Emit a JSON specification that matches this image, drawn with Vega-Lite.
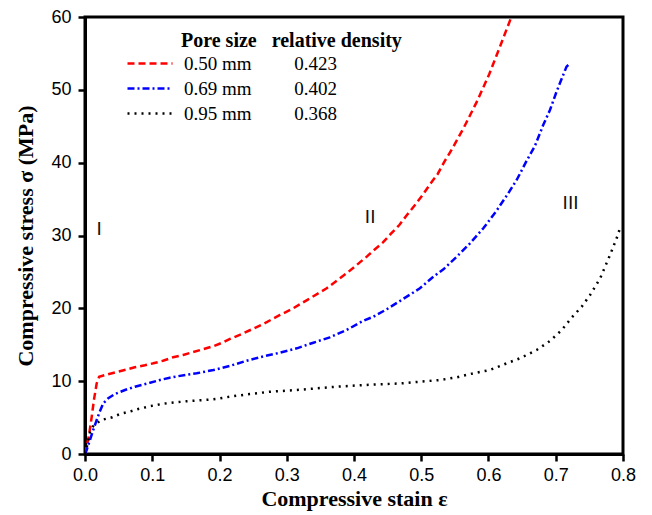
{
  "$schema": "https://vega.github.io/schema/vega-lite/v6.json",
  "width": 538,
  "height": 437,
  "autosize": {"type": "none"},
  "padding": {"left": 85, "top": 17, "right": 29, "bottom": 61},
  "background": "white",
  "config": {
    "view": {"stroke": "black", "strokeWidth": 3},
    "axis": {
      "grid": false,
      "domainColor": "black",
      "domainWidth": 3,
      "tickColor": "black",
      "tickWidth": 2.5,
      "labelFont": "Liberation Sans",
      "labelFontSize": 18,
      "labelColor": "black",
      "titleFont": "Liberation Serif",
      "titleFontWeight": "bold",
      "titleFontSize": 22,
      "titleColor": "black"
    }
  },
  "datasets": {
    "curves": [
      {"pore": "0.50 mm", "strain": 0, "stress": 0},
      {"pore": "0.50 mm", "strain": 0.0015, "stress": 0.55},
      {"pore": "0.50 mm", "strain": 0.0064, "stress": 2.84},
      {"pore": "0.50 mm", "strain": 0.010, "stress": 5.12},
      {"pore": "0.50 mm", "strain": 0.0134, "stress": 7.5},
      {"pore": "0.50 mm", "strain": 0.0174, "stress": 9.7},
      {"pore": "0.50 mm", "strain": 0.021, "stress": 10.6},
      {"pore": "0.50 mm", "strain": 0.032, "stress": 10.9},
      {"pore": "0.50 mm", "strain": 0.047, "stress": 11.26},
      {"pore": "0.50 mm", "strain": 0.062, "stress": 11.6},
      {"pore": "0.50 mm", "strain": 0.074, "stress": 11.9},
      {"pore": "0.50 mm", "strain": 0.089, "stress": 12.18},
      {"pore": "0.50 mm", "strain": 0.1016, "stress": 12.45},
      {"pore": "0.50 mm", "strain": 0.116, "stress": 12.8},
      {"pore": "0.50 mm", "strain": 0.131, "stress": 13.28},
      {"pore": "0.50 mm", "strain": 0.146, "stress": 13.6},
      {"pore": "0.50 mm", "strain": 0.161, "stress": 14.0},
      {"pore": "0.50 mm", "strain": 0.176, "stress": 14.4},
      {"pore": "0.50 mm", "strain": 0.191, "stress": 14.8},
      {"pore": "0.50 mm", "strain": 0.206, "stress": 15.35},
      {"pore": "0.50 mm", "strain": 0.2156, "stress": 15.8},
      {"pore": "0.50 mm", "strain": 0.2354, "stress": 16.57},
      {"pore": "0.50 mm", "strain": 0.265, "stress": 17.85},
      {"pore": "0.50 mm", "strain": 0.29, "stress": 19.09},
      {"pore": "0.50 mm", "strain": 0.307, "stress": 19.87},
      {"pore": "0.50 mm", "strain": 0.332, "stress": 21.24},
      {"pore": "0.50 mm", "strain": 0.3594, "stress": 22.75},
      {"pore": "0.50 mm", "strain": 0.389, "stress": 24.81},
      {"pore": "0.50 mm", "strain": 0.404, "stress": 25.95},
      {"pore": "0.50 mm", "strain": 0.419, "stress": 27.1},
      {"pore": "0.50 mm", "strain": 0.4287, "stress": 27.91},
      {"pore": "0.50 mm", "strain": 0.4427, "stress": 29.01},
      {"pore": "0.50 mm", "strain": 0.4546, "stress": 30.21},
      {"pore": "0.50 mm", "strain": 0.4674, "stress": 31.44},
      {"pore": "0.50 mm", "strain": 0.4784, "stress": 32.77},
      {"pore": "0.50 mm", "strain": 0.4907, "stress": 34.19},
      {"pore": "0.50 mm", "strain": 0.5021, "stress": 35.56},
      {"pore": "0.50 mm", "strain": 0.513, "stress": 37.03},
      {"pore": "0.50 mm", "strain": 0.5245, "stress": 38.45},
      {"pore": "0.50 mm", "strain": 0.5338, "stress": 40.05},
      {"pore": "0.50 mm", "strain": 0.545, "stress": 41.74},
      {"pore": "0.50 mm", "strain": 0.5636, "stress": 44.86},
      {"pore": "0.50 mm", "strain": 0.5834, "stress": 48.51},
      {"pore": "0.50 mm", "strain": 0.6012, "stress": 52.18},
      {"pore": "0.50 mm", "strain": 0.618, "stress": 56.16},
      {"pore": "0.50 mm", "strain": 0.634, "stress": 60},
      {"pore": "0.69 mm", "strain": 0, "stress": 0},
      {"pore": "0.69 mm", "strain": 0.0025, "stress": 0.55},
      {"pore": "0.69 mm", "strain": 0.0074, "stress": 1.92},
      {"pore": "0.69 mm", "strain": 0.0123, "stress": 3.3},
      {"pore": "0.69 mm", "strain": 0.0174, "stress": 4.67},
      {"pore": "0.69 mm", "strain": 0.0213, "stress": 5.67},
      {"pore": "0.69 mm", "strain": 0.0272, "stress": 6.96},
      {"pore": "0.69 mm", "strain": 0.0346, "stress": 7.65},
      {"pore": "0.69 mm", "strain": 0.0446, "stress": 8.24},
      {"pore": "0.69 mm", "strain": 0.0595, "stress": 8.79},
      {"pore": "0.69 mm", "strain": 0.0743, "stress": 9.24},
      {"pore": "0.69 mm", "strain": 0.0967, "stress": 9.79},
      {"pore": "0.69 mm", "strain": 0.1115, "stress": 10.16},
      {"pore": "0.69 mm", "strain": 0.126, "stress": 10.48},
      {"pore": "0.69 mm", "strain": 0.151, "stress": 10.89},
      {"pore": "0.69 mm", "strain": 0.166, "stress": 11.08},
      {"pore": "0.69 mm", "strain": 0.191, "stress": 11.53},
      {"pore": "0.69 mm", "strain": 0.2156, "stress": 12.1},
      {"pore": "0.69 mm", "strain": 0.2404, "stress": 12.81},
      {"pore": "0.69 mm", "strain": 0.265, "stress": 13.4},
      {"pore": "0.69 mm", "strain": 0.29, "stress": 13.91},
      {"pore": "0.69 mm", "strain": 0.315, "stress": 14.51},
      {"pore": "0.69 mm", "strain": 0.3395, "stress": 15.28},
      {"pore": "0.69 mm", "strain": 0.364, "stress": 16.02},
      {"pore": "0.69 mm", "strain": 0.389, "stress": 17.03},
      {"pore": "0.69 mm", "strain": 0.414, "stress": 18.3},
      {"pore": "0.69 mm", "strain": 0.4287, "stress": 18.85},
      {"pore": "0.69 mm", "strain": 0.4486, "stress": 19.87},
      {"pore": "0.69 mm", "strain": 0.473, "stress": 21.28},
      {"pore": "0.69 mm", "strain": 0.498, "stress": 22.75},
      {"pore": "0.69 mm", "strain": 0.518, "stress": 24.34},
      {"pore": "0.69 mm", "strain": 0.533, "stress": 25.36},
      {"pore": "0.69 mm", "strain": 0.5527, "stress": 27.09},
      {"pore": "0.69 mm", "strain": 0.5725, "stress": 28.93},
      {"pore": "0.69 mm", "strain": 0.5923, "stress": 30.99},
      {"pore": "0.69 mm", "strain": 0.612, "stress": 33.41},
      {"pore": "0.69 mm", "strain": 0.6294, "stress": 35.8},
      {"pore": "0.69 mm", "strain": 0.6419, "stress": 37.62},
      {"pore": "0.69 mm", "strain": 0.6568, "stress": 40.27},
      {"pore": "0.69 mm", "strain": 0.669, "stress": 42.29},
      {"pore": "0.69 mm", "strain": 0.6815, "stress": 45.2},
      {"pore": "0.69 mm", "strain": 0.6914, "stress": 47.23},
      {"pore": "0.69 mm", "strain": 0.7014, "stress": 49.8},
      {"pore": "0.69 mm", "strain": 0.716, "stress": 53.18},
      {"pore": "0.69 mm", "strain": 0.7187, "stress": 53.41},
      {"pore": "0.95 mm", "strain": 0, "stress": 0},
      {"pore": "0.95 mm", "strain": 0.0015, "stress": 0.5},
      {"pore": "0.95 mm", "strain": 0.005, "stress": 1.9},
      {"pore": "0.95 mm", "strain": 0.0074, "stress": 3.0},
      {"pore": "0.95 mm", "strain": 0.012, "stress": 3.8},
      {"pore": "0.95 mm", "strain": 0.024, "stress": 4.67},
      {"pore": "0.95 mm", "strain": 0.0406, "stress": 5.04},
      {"pore": "0.95 mm", "strain": 0.051, "stress": 5.45},
      {"pore": "0.95 mm", "strain": 0.0595, "stress": 5.67},
      {"pore": "0.95 mm", "strain": 0.0694, "stress": 5.9},
      {"pore": "0.95 mm", "strain": 0.078, "stress": 6.15},
      {"pore": "0.95 mm", "strain": 0.0877, "stress": 6.36},
      {"pore": "0.95 mm", "strain": 0.0977, "stress": 6.59},
      {"pore": "0.95 mm", "strain": 0.1164, "stress": 6.9},
      {"pore": "0.95 mm", "strain": 0.136, "stress": 7.1},
      {"pore": "0.95 mm", "strain": 0.151, "stress": 7.24},
      {"pore": "0.95 mm", "strain": 0.177, "stress": 7.41},
      {"pore": "0.95 mm", "strain": 0.191, "stress": 7.51},
      {"pore": "0.95 mm", "strain": 0.2156, "stress": 7.87},
      {"pore": "0.95 mm", "strain": 0.245, "stress": 8.24},
      {"pore": "0.95 mm", "strain": 0.275, "stress": 8.55},
      {"pore": "0.95 mm", "strain": 0.315, "stress": 8.79},
      {"pore": "0.95 mm", "strain": 0.3445, "stress": 9.02},
      {"pore": "0.95 mm", "strain": 0.374, "stress": 9.24},
      {"pore": "0.95 mm", "strain": 0.414, "stress": 9.47},
      {"pore": "0.95 mm", "strain": 0.4486, "stress": 9.61},
      {"pore": "0.95 mm", "strain": 0.473, "stress": 9.71},
      {"pore": "0.95 mm", "strain": 0.498, "stress": 9.93},
      {"pore": "0.95 mm", "strain": 0.528, "stress": 10.16},
      {"pore": "0.95 mm", "strain": 0.5527, "stress": 10.53},
      {"pore": "0.95 mm", "strain": 0.5774, "stress": 11.08},
      {"pore": "0.95 mm", "strain": 0.602, "stress": 11.53},
      {"pore": "0.95 mm", "strain": 0.627, "stress": 12.45},
      {"pore": "0.95 mm", "strain": 0.6468, "stress": 13.14},
      {"pore": "0.95 mm", "strain": 0.6717, "stress": 14.28},
      {"pore": "0.95 mm", "strain": 0.6914, "stress": 15.52},
      {"pore": "0.95 mm", "strain": 0.709, "stress": 17.03},
      {"pore": "0.95 mm", "strain": 0.7237, "stress": 18.72},
      {"pore": "0.95 mm", "strain": 0.7386, "stress": 20.23},
      {"pore": "0.95 mm", "strain": 0.751, "stress": 21.83},
      {"pore": "0.95 mm", "strain": 0.766, "stress": 24.12},
      {"pore": "0.95 mm", "strain": 0.7807, "stress": 27.32},
      {"pore": "0.95 mm", "strain": 0.7906, "stress": 29.62},
      {"pore": "0.95 mm", "strain": 0.7955, "stress": 30.99}
    ],
    "regions": [
      {"label": "I", "strain": 0.021, "stress": 30.9},
      {"label": "II", "strain": 0.424, "stress": 32.6},
      {"label": "III", "strain": 0.722, "stress": 34.4}
    ]
  },
  "layer": [
    {
      "data": {"name": "curves"},
      "mark": {"type": "line", "strokeWidth": 2.5, "strokeCap": "butt", "clip": true},
      "encoding": {
        "x": {
          "field": "strain",
          "type": "quantitative",
          "scale": {"domain": [0, 0.8], "nice": false, "zero": false},
          "axis": {
            "title": "Compressive stain ε",
            "values": [0, 0.05, 0.1, 0.15, 0.2, 0.25, 0.3, 0.35, 0.4, 0.45, 0.5, 0.55, 0.6, 0.65, 0.7, 0.75, 0.8],
            "labelExpr": "round(datum.value * 100) % 10 === 0 ? format(datum.value, '.1f') : ''",
            "tickSize": {"condition": {"test": "round(datum.value * 100) % 10 === 0", "value": 7}, "value": 4},
            "labelPadding": 5,
            "labelFlush": false,
            "labelOverlap": false,
            "titlePadding": 4
          }
        },
        "y": {
          "field": "stress",
          "type": "quantitative",
          "scale": {"domain": [0, 60], "nice": false},
          "axis": {
            "title": "Compressive stress σ (MPa)",
            "values": [0, 5, 10, 15, 20, 25, 30, 35, 40, 45, 50, 55, 60],
            "labelExpr": "datum.value % 10 === 0 ? datum.label : ''",
            "tickSize": {"condition": {"test": "datum.value % 10 === 0", "value": 7}, "value": 4},
            "labelPadding": 7,
            "labelFlush": false,
            "labelOverlap": false,
            "titlePadding": 13
          }
        },
        "color": {
          "field": "pore",
          "type": "nominal",
          "scale": {"domain": ["0.50 mm", "0.69 mm", "0.95 mm"], "range": ["#ff0000", "#0000ff", "#000000"]},
          "legend": {
            "orient": "none",
            "legendX": 41,
            "legendY": 14,
            "padding": 0,
            "title": "\u200b\u00a0\u00a0\u00a0\u00a0\u00a0\u00a0\u00a0\u00a0\u00a0\u00a0\u00a0Pore size\u00a0\u00a0\u00a0relative density",
            "titleFont": "Liberation Serif",
            "titleFontWeight": "bold",
            "titleFontSize": 20,
            "titleColor": "black",
            "titleLimit": 600,
            "titlePadding": 3,
            "labelFont": "Liberation Serif",
            "labelFontSize": 19,
            "labelColor": "black",
            "labelLimit": 400,
            "labelOffset": 10,
            "rowPadding": 5,
            "clipHeight": 19,
            "symbolType": "stroke",
            "symbolSize": 2025,
            "symbolStrokeWidth": 2.5,
            "labelExpr": "datum.label == '0.50 mm' ? '0.50 mm\u00a0\u00a0\u00a0\u00a0\u00a0\u00a0\u00a0\u00a0\u00a00.423' : datum.label == '0.69 mm' ? '0.69 mm\u00a0\u00a0\u00a0\u00a0\u00a0\u00a0\u00a0\u00a0\u00a00.402' : '0.95 mm\u00a0\u00a0\u00a0\u00a0\u00a0\u00a0\u00a0\u00a0\u00a00.368'"
          }
        },
        "strokeDash": {
          "field": "pore",
          "type": "nominal",
          "scale": {"domain": ["0.50 mm", "0.69 mm", "0.95 mm"], "range": [[7, 4], [7, 3, 2, 3], [2, 5]]},
          "legend": {
            "orient": "none",
            "legendX": 41,
            "legendY": 14,
            "padding": 0,
            "title": "\u200b\u00a0\u00a0\u00a0\u00a0\u00a0\u00a0\u00a0\u00a0\u00a0\u00a0\u00a0Pore size\u00a0\u00a0\u00a0relative density",
            "titleFont": "Liberation Serif",
            "titleFontWeight": "bold",
            "titleFontSize": 20,
            "titleColor": "black",
            "titleLimit": 600,
            "titlePadding": 3,
            "labelFont": "Liberation Serif",
            "labelFontSize": 19,
            "labelColor": "black",
            "labelLimit": 400,
            "labelOffset": 10,
            "rowPadding": 5,
            "clipHeight": 19,
            "symbolType": "stroke",
            "symbolSize": 2025,
            "symbolStrokeWidth": 2.5,
            "labelExpr": "datum.label == '0.50 mm' ? '0.50 mm\u00a0\u00a0\u00a0\u00a0\u00a0\u00a0\u00a0\u00a0\u00a00.423' : datum.label == '0.69 mm' ? '0.69 mm\u00a0\u00a0\u00a0\u00a0\u00a0\u00a0\u00a0\u00a0\u00a00.402' : '0.95 mm\u00a0\u00a0\u00a0\u00a0\u00a0\u00a0\u00a0\u00a0\u00a00.368'"
          }
        },
        "order": {"field": "strain", "type": "quantitative"}
      }
    },
    {
      "data": {"name": "regions"},
      "mark": {"type": "text", "font": "Liberation Sans", "fontSize": 19, "color": "#111111", "align": "center", "baseline": "middle"},
      "encoding": {
        "x": {"field": "strain", "type": "quantitative"},
        "y": {"field": "stress", "type": "quantitative"},
        "text": {"field": "label"}
      }
    }
  ]
}
